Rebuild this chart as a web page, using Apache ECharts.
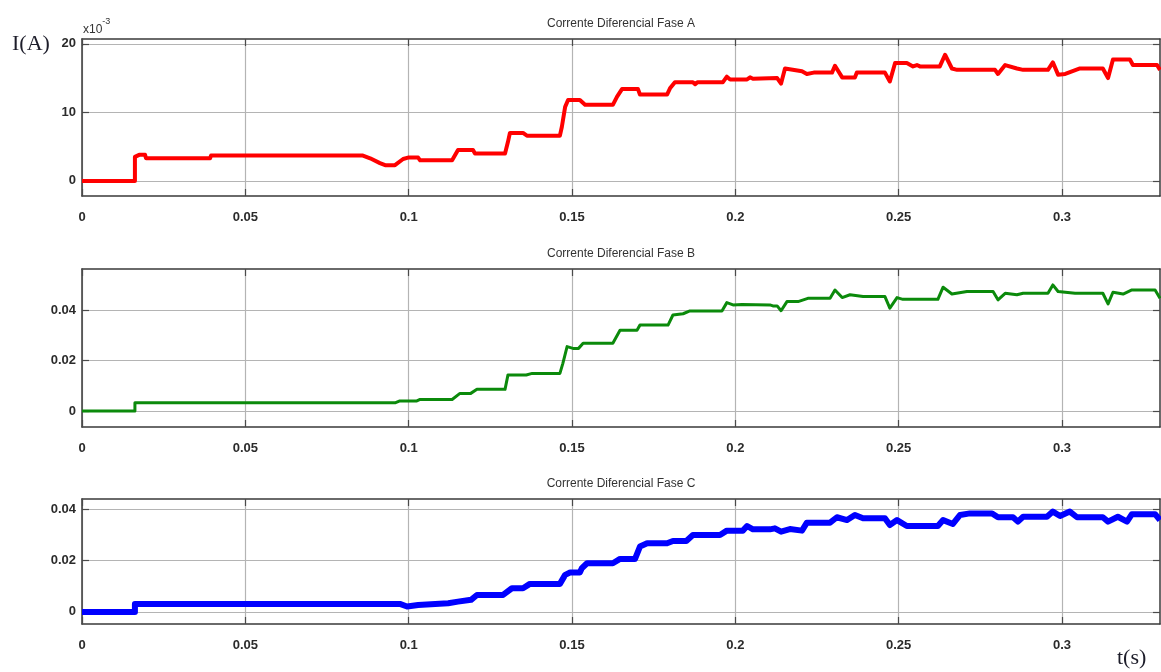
<!DOCTYPE html>
<html>
<head>
<meta charset="utf-8">
<script src="https://cdn.jsdelivr.net/npm/echarts@6/dist/echarts.min.js"></script>
<style>
  html, body { margin: 0; padding: 0; background: #ffffff; }
  #chart { width: 1161px; height: 672px; }
</style>
</head>
<body>
<div id="chart"></div>
<script>
// Differential current per phase, time in seconds
// Phase A is given in units of 1e-3 A (axis marked x10^-3)
const tA = [0, 0.0162, 0.0162, 0.0175, 0.0193, 0.0196, 0.0392, 0.0395, 0.0860, 0.0882, 0.0912, 0.0928, 0.0958, 0.0983, 0.0998, 0.1029, 0.1035, 0.1133, 0.1151, 0.1197, 0.1203, 0.1295, 0.1304, 0.1310, 0.1350, 0.1362, 0.1463, 0.1469, 0.1479, 0.1488, 0.1524, 0.1540, 0.1625, 0.1638, 0.1653, 0.1702, 0.1708, 0.1791, 0.1800, 0.1815, 0.1870, 0.1877, 0.1884, 0.1962, 0.1974, 0.1984, 0.2036, 0.2045, 0.2054, 0.2128, 0.2140, 0.2152, 0.2204, 0.2219, 0.2240, 0.2296, 0.2305, 0.2327, 0.2366, 0.2372, 0.2458, 0.2473, 0.2489, 0.2525, 0.2544, 0.2556, 0.2565, 0.2626, 0.2642, 0.2663, 0.2679, 0.2795, 0.2804, 0.2826, 0.2862, 0.2881, 0.2957, 0.2972, 0.2988, 0.3010, 0.3055, 0.3125, 0.3141, 0.3156, 0.3208, 0.3217, 0.3291, 0.3300];
const iA = [0, 0, 3.5, 3.8, 3.8, 3.3, 3.3, 3.7, 3.7, 3.3, 2.6, 2.3, 2.3, 3.2, 3.4, 3.4, 3.0, 3.0, 4.5, 4.5, 4.0, 4.0, 5.7, 7.0, 7.0, 6.6, 6.6, 7.9, 10.8, 11.8, 11.8, 11.1, 11.1, 12.3, 13.4, 13.4, 12.6, 12.6, 13.5, 14.4, 14.4, 14.1, 14.4, 14.4, 15.2, 14.8, 14.8, 15.1, 14.9, 15.0, 14.2, 16.4, 16.0, 15.6, 15.8, 15.8, 16.8, 15.1, 15.1, 15.8, 15.8, 14.5, 17.2, 17.2, 16.7, 16.9, 16.7, 16.7, 18.4, 16.4, 16.2, 16.2, 15.6, 16.9, 16.4, 16.2, 16.2, 17.3, 15.5, 15.6, 16.4, 16.4, 15.0, 17.7, 17.7, 16.9, 16.9, 16.2];

const tB = [0, 0.0162, 0.0162, 0.0960, 0.0973, 0.1025, 0.1035, 0.1133, 0.1157, 0.1190, 0.1209, 0.1295, 0.1304, 0.1360, 0.1378, 0.1463, 0.1472, 0.1485, 0.1503, 0.1520, 0.1534, 0.1625, 0.1647, 0.1699, 0.1708, 0.1794, 0.1809, 0.1840, 0.1861, 0.1959, 0.1974, 0.1993, 0.2020, 0.2106, 0.2115, 0.2128, 0.2140, 0.2158, 0.2192, 0.2222, 0.2290, 0.2305, 0.2327, 0.2351, 0.2391, 0.2458, 0.2473, 0.2495, 0.2513, 0.2620, 0.2636, 0.2663, 0.2709, 0.2789, 0.2804, 0.2826, 0.2862, 0.2881, 0.2957, 0.2972, 0.2988, 0.3040, 0.3125, 0.3141, 0.3156, 0.3187, 0.3214, 0.3285, 0.3300];
const iB = [0, 0, 0.0033, 0.0033, 0.0040, 0.0040, 0.0046, 0.0046, 0.0070, 0.0070, 0.0086, 0.0086, 0.0143, 0.0143, 0.0149, 0.0149, 0.0189, 0.0255, 0.0248, 0.0248, 0.0268, 0.0268, 0.0320, 0.0320, 0.0340, 0.0340, 0.0380, 0.0385, 0.0396, 0.0396, 0.0429, 0.0420, 0.0422, 0.0420, 0.0416, 0.0416, 0.0397, 0.0433, 0.0433, 0.0446, 0.0446, 0.0479, 0.0449, 0.0460, 0.0453, 0.0453, 0.0407, 0.0449, 0.0442, 0.0442, 0.0490, 0.0463, 0.0473, 0.0473, 0.0440, 0.0466, 0.0460, 0.0466, 0.0466, 0.0499, 0.0473, 0.0466, 0.0466, 0.0424, 0.0470, 0.0463, 0.0479, 0.0479, 0.0446];

const tC = [0, 0.0162, 0.0162, 0.0973, 0.0995, 0.1029, 0.1121, 0.1151, 0.1191, 0.1209, 0.1289, 0.1316, 0.1350, 0.1371, 0.1463, 0.1479, 0.1494, 0.1524, 0.1530, 0.1546, 0.1625, 0.1647, 0.1693, 0.1708, 0.1730, 0.1791, 0.1809, 0.1850, 0.1870, 0.1953, 0.1974, 0.2023, 0.2036, 0.2054, 0.2106, 0.2121, 0.2140, 0.2167, 0.2204, 0.2219, 0.2290, 0.2311, 0.2342, 0.2366, 0.2391, 0.2458, 0.2473, 0.2495, 0.2525, 0.2620, 0.2636, 0.2666, 0.2688, 0.2718, 0.2786, 0.2804, 0.2850, 0.2865, 0.2881, 0.2954, 0.2972, 0.2994, 0.3024, 0.3046, 0.3125, 0.3141, 0.3171, 0.3199, 0.3214, 0.3285, 0.3300];
const iC = [0, 0, 0.0031, 0.0031, 0.0021, 0.0027, 0.0034, 0.0040, 0.0047, 0.0066, 0.0066, 0.0092, 0.0092, 0.0109, 0.0109, 0.0144, 0.0153, 0.0153, 0.0170, 0.0189, 0.0189, 0.0206, 0.0206, 0.0254, 0.0267, 0.0267, 0.0276, 0.0276, 0.0299, 0.0299, 0.0316, 0.0316, 0.0334, 0.0321, 0.0321, 0.0325, 0.0312, 0.0322, 0.0316, 0.0347, 0.0347, 0.0368, 0.0357, 0.0377, 0.0364, 0.0364, 0.0338, 0.0357, 0.0334, 0.0334, 0.0357, 0.0342, 0.0377, 0.0383, 0.0383, 0.0368, 0.0368, 0.0351, 0.0370, 0.0370, 0.0390, 0.0373, 0.0390, 0.0368, 0.0368, 0.0351, 0.0370, 0.0351, 0.0380, 0.0380, 0.0357];

// Tick labels
const timeTicks = [0, 0.05, 0.1, 0.15, 0.2, 0.25, 0.3];
const ticksA = [0, 10, 20];
const ticksB = [0, 0.02, 0.04];
const ticksC = [0, 0.02, 0.04];

const titles = ['Corrente Diferencial Fase A', 'Corrente Diferencial Fase B', 'Corrente Diferencial Fase C'];

const pairs = (t, v) => t.map((x, i) => [x, v[i]]);

const FONT = "'Liberation Sans Narrow', 'Liberation Sans', Arial, sans-serif";
const SERIF = "'Liberation Serif', 'DejaVu Serif', serif";
const frame = '#3a3a3a';
const gridGray = '#b4b4b4';

const panels = [
  { top: 39,  height: 157, ymin: -2.2,    ymax: 20.7,   ticks: ticksA, data: pairs(tA, iA), color: '#ff0000', width: 4 },
  { top: 269, height: 158, ymin: -0.0063, ymax: 0.0562, ticks: ticksB, data: pairs(tB, iB), color: '#0b8a0b', width: 3 },
  { top: 499, height: 125, ymin: -0.0047, ymax: 0.0439, ticks: ticksC, data: pairs(tC, iC), color: '#0000ff', width: 6 }
];

const grid = [], xAxis = [], yAxis = [], series = [];

panels.forEach((p, k) => {
  grid.push({ left: 82, top: p.top, width: 1078, height: p.height, containLabel: false });
  const line = { show: true, onZero: false, lineStyle: { color: frame, width: 1.5 } };
  const tick = (on) => ({ show: on, inside: true, length: 7, lineStyle: { color: '#4a4a4a', width: 1.2 } });
  const label = {
    color: '#2b2b2b', fontFamily: FONT, fontSize: 13, fontWeight: 'bold'
  };
  // bottom time axis with labels and vertical grid lines
  xAxis.push({
    gridIndex: k, type: 'value', position: 'bottom', min: 0, max: 0.33,
    axisLine: line,
    axisTick: Object.assign(tick(true), { customValues: timeTicks }),
    axisLabel: Object.assign({ margin: 15, customValues: timeTicks, formatter: v => String(+v.toFixed(2)) }, label),
    splitLine: { show: true, lineStyle: { color: gridGray, width: 1.2 } }
  });
  // top frame edge with inward ticks
  xAxis.push({
    gridIndex: k, type: 'value', position: 'top', min: 0, max: 0.33,
    axisLine: line,
    axisTick: Object.assign(tick(true), { customValues: timeTicks }),
    axisLabel: { show: false, customValues: timeTicks },
    splitLine: { show: false }
  });
  yAxis.push({
    gridIndex: k, type: 'value', position: 'left', min: p.ymin, max: p.ymax,
    axisLine: line,
    axisTick: Object.assign(tick(true), { customValues: p.ticks }),
    axisLabel: Object.assign({ margin: 6, customValues: p.ticks, formatter: v => String(v) }, label),
    splitLine: { show: true, lineStyle: { color: gridGray, width: 1.2 } }
  });
  yAxis.push({
    gridIndex: k, type: 'value', position: 'right', min: p.ymin, max: p.ymax,
    axisLine: line,
    axisTick: Object.assign(tick(true), { customValues: p.ticks }),
    axisLabel: { show: false, customValues: p.ticks },
    splitLine: { show: false }
  });
  series.push({
    type: 'line', xAxisIndex: 2 * k, yAxisIndex: 2 * k,
    data: p.data, showSymbol: false, symbol: 'none', clip: true,
    lineStyle: { color: p.color, width: p.width, join: 'round' },
    z: 3
  });
});

const graphic = [
  { type: 'text', left: 12, top: 33, style: { text: 'I(A)', font: '22px ' + SERIF, fill: '#1d1d2a' } },
  { type: 'text', left: 83, top: 17, style: {
      text: '{b|x10}{s|-3}', fill: '#333',
      rich: {
        b: { fontFamily: FONT, fontSize: 12, color: '#333', verticalAlign: 'bottom', padding: [7, 0, 0, 0] },
        s: { fontFamily: FONT, fontSize: 9, color: '#333', verticalAlign: 'top' }
      }
  } },
  { type: 'text', left: 1117, top: 647, style: { text: 't(s)', font: '22px ' + SERIF, fill: '#1d1d2a' } }
];
panels.forEach((p, k) => {
  graphic.push({
    type: 'text', x: 621, y: p.top - 15,
    style: { text: titles[k], font: '12px ' + FONT, fill: '#333', align: 'center', verticalAlign: 'middle' }
  });
});

const chart = echarts.init(document.getElementById('chart'), null, { renderer: 'canvas' });
chart.setOption({
  animation: false,
  backgroundColor: '#ffffff',
  grid, xAxis, yAxis, series, graphic
});
</script>
</body>
</html>
